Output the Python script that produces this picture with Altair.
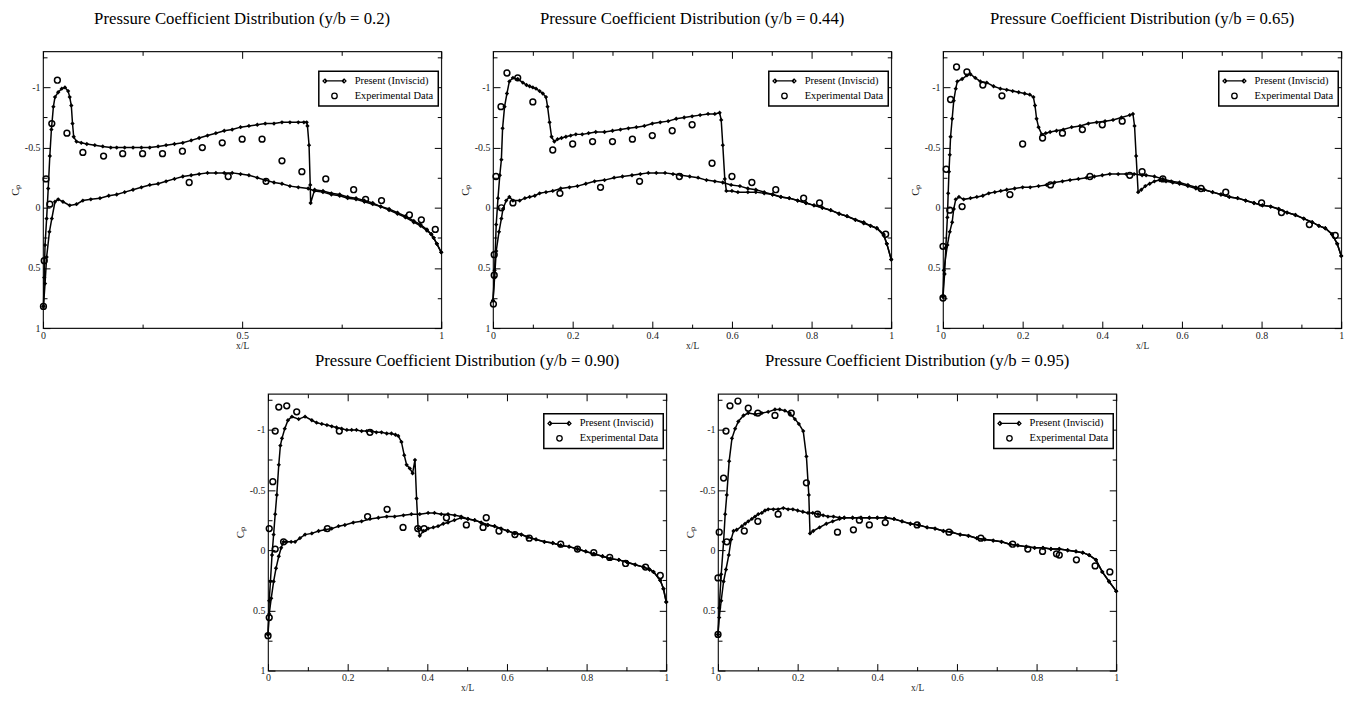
import altair as alt
import pandas as pd

TITLES = [
    "Pressure Coefficient Distribution (y/b = 0.2)",
    "Pressure Coefficient Distribution (y/b = 0.44)",
    "Pressure Coefficient Distribution (y/b = 0.65)",
    "Pressure Coefficient Distribution (y/b = 0.90)",
    "Pressure Coefficient Distribution (y/b = 0.95)",
]
SERIES = ["Present (Inviscid)", "Experimental Data"]

X_MAJOR_A = [0, 0.5, 1]
X_MINOR_A = [0.25, 0.75]
X_MAJOR_B = [0, 0.2, 0.4, 0.6, 0.8, 1]
X_MINOR_B = [0.1, 0.3, 0.5, 0.7, 0.9]
Y_MAJOR = [-1, -0.5, 0, 0.5, 1]
Y_MINOR = [-1.25, -0.75, -0.25, 0.25, 0.75]

# ---------------- y/b = 0.2 ----------------
P1_UPPER = [(0.001, 0.82), (0.003, 0.58), (0.005, 0.31), (0.009, 0.09), (0.013, -0.16), (0.017, -0.43),
            (0.021, -0.65), (0.026, -0.84), (0.030, -0.92), (0.038, -0.96), (0.047, -0.99), (0.055, -1.0),
            (0.063, -0.97), (0.067, -0.92), (0.071, -0.85), (0.074, -0.70), (0.077, -0.59), (0.084, -0.55),
            (0.096, -0.54), (0.11, -0.53), (0.13, -0.52), (0.15, -0.51), (0.17, -0.5), (0.185, -0.5),
            (0.205, -0.5), (0.226, -0.5), (0.247, -0.5), (0.268, -0.5), (0.289, -0.51), (0.309, -0.52),
            (0.33, -0.53), (0.351, -0.54), (0.372, -0.56), (0.392, -0.58), (0.413, -0.6), (0.434, -0.62),
            (0.455, -0.64), (0.475, -0.65), (0.496, -0.67), (0.517, -0.68), (0.538, -0.69), (0.558, -0.7),
            (0.58, -0.7), (0.6, -0.71), (0.62, -0.71), (0.641, -0.71), (0.655, -0.71), (0.662, -0.71),
            (0.664, -0.68), (0.668, -0.52), (0.671, -0.19), (0.672, -0.04), (0.682, -0.15), (0.703, -0.14),
            (0.724, -0.12), (0.745, -0.11), (0.765, -0.09), (0.786, -0.08), (0.807, -0.06), (0.828, -0.04),
            (0.848, -0.01), (0.869, 0.01), (0.89, 0.04), (0.91, 0.07), (0.931, 0.11), (0.948, 0.14),
            (0.964, 0.18), (0.975, 0.22), (0.981, 0.25), (0.989, 0.3), (1.0, 0.37)]
P1_LOWER = [(0.001, 0.82), (0.005, 0.63), (0.009, 0.41), (0.016, 0.2), (0.022, 0.09), (0.03, -0.05),
            (0.038, -0.07), (0.05, -0.05), (0.067, -0.02), (0.084, -0.03), (0.1, -0.06), (0.12, -0.07),
            (0.143, -0.08), (0.165, -0.1), (0.185, -0.11), (0.205, -0.13), (0.226, -0.15), (0.247, -0.17),
            (0.268, -0.19), (0.289, -0.2), (0.309, -0.22), (0.33, -0.24), (0.351, -0.26), (0.372, -0.27),
            (0.392, -0.28), (0.413, -0.29), (0.434, -0.29), (0.455, -0.29), (0.475, -0.29), (0.496, -0.28),
            (0.517, -0.27), (0.538, -0.25), (0.558, -0.23), (0.58, -0.21), (0.6, -0.2), (0.62, -0.18),
            (0.641, -0.17), (0.666, -0.16), (0.682, -0.14), (0.703, -0.13), (0.724, -0.11), (0.745, -0.1),
            (0.765, -0.08), (0.786, -0.07), (0.807, -0.05), (0.828, -0.03), (0.848, -0.01), (0.869, 0.02),
            (0.89, 0.05), (0.91, 0.08), (0.931, 0.12), (0.948, 0.15), (0.964, 0.19), (0.975, 0.22),
            (0.981, 0.25), (0.989, 0.3), (1.0, 0.37)]
P1_EXP = [(0.001, 0.82), (0.003, 0.44), (0.0075, -0.24), (0.017, -0.03), (0.022, -0.70), (0.036, -1.06),
          (0.06, -0.62), (0.1, -0.46), (0.152, -0.43), (0.2, -0.45), (0.25, -0.45), (0.3, -0.45),
          (0.35, -0.47), (0.4, -0.5), (0.45, -0.54), (0.5, -0.57), (0.55, -0.57), (0.6, -0.39),
          (0.65, -0.3), (0.71, -0.24), (0.78, -0.15), (0.81, -0.07), (0.85, -0.06), (0.92, 0.06),
          (0.95, 0.1), (0.985, 0.18), (0.367, -0.21), (0.465, -0.26), (0.56, -0.22)]

# ---------------- y/b = 0.44 ----------------
P2_UPPER = [(0.0, 0.77), (0.004, 0.52), (0.008, 0.14), (0.0125, -0.08), (0.017, -0.27), (0.021, -0.4),
            (0.024, -0.66), (0.029, -0.84), (0.035, -0.95), (0.041, -1.05), (0.05, -1.08), (0.062, -1.07),
            (0.075, -1.04), (0.084, -1.02), (0.092, -1.01), (0.1, -1.0), (0.108, -0.99), (0.117, -0.97),
            (0.125, -0.95), (0.133, -0.92), (0.137, -0.84), (0.142, -0.71), (0.147, -0.59), (0.154, -0.55),
            (0.162, -0.57), (0.172, -0.58), (0.183, -0.59), (0.195, -0.6), (0.208, -0.61), (0.224, -0.61),
            (0.24, -0.62), (0.258, -0.63), (0.28, -0.63), (0.3, -0.64), (0.32, -0.65), (0.34, -0.66),
            (0.36, -0.67), (0.38, -0.68), (0.4, -0.7), (0.42, -0.71), (0.44, -0.72), (0.46, -0.74),
            (0.48, -0.75), (0.5, -0.76), (0.52, -0.77), (0.54, -0.78), (0.557, -0.78), (0.569, -0.79),
            (0.573, -0.73), (0.577, -0.52), (0.582, -0.24), (0.586, -0.14), (0.6, -0.14), (0.615, -0.13),
            (0.64, -0.13), (0.66, -0.13), (0.681, -0.12), (0.702, -0.11), (0.723, -0.09), (0.744, -0.08),
            (0.765, -0.06), (0.786, -0.04), (0.806, -0.02), (0.827, 0.0), (0.848, 0.02), (0.869, 0.05),
            (0.889, 0.07), (0.91, 0.1), (0.931, 0.12), (0.948, 0.15), (0.964, 0.17), (0.981, 0.22),
            (0.989, 0.3), (1.0, 0.43)]
P2_LOWER = [(0.0, 0.77), (0.004, 0.58), (0.008, 0.36), (0.015, 0.2), (0.021, 0.09), (0.025, 0.01),
            (0.033, -0.06), (0.041, -0.09), (0.05, -0.06), (0.067, -0.06), (0.08, -0.08), (0.092, -0.09),
            (0.105, -0.1), (0.117, -0.12), (0.133, -0.13), (0.15, -0.14), (0.17, -0.16), (0.192, -0.17),
            (0.212, -0.18), (0.233, -0.2), (0.255, -0.22), (0.28, -0.23), (0.304, -0.25), (0.325, -0.26),
            (0.349, -0.27), (0.37, -0.28), (0.39, -0.29), (0.41, -0.29), (0.432, -0.29), (0.452, -0.28),
            (0.473, -0.27), (0.494, -0.26), (0.515, -0.25), (0.536, -0.23), (0.557, -0.22), (0.577, -0.21),
            (0.598, -0.19), (0.62, -0.18), (0.64, -0.16), (0.66, -0.15), (0.681, -0.13), (0.702, -0.11),
            (0.723, -0.09), (0.744, -0.08), (0.765, -0.06), (0.786, -0.04), (0.806, -0.02), (0.827, 0.0),
            (0.848, 0.02), (0.869, 0.05), (0.889, 0.07), (0.91, 0.1), (0.931, 0.13), (0.948, 0.15),
            (0.964, 0.17), (0.981, 0.23), (0.989, 0.3), (1.0, 0.43)]
P2_EXP = [(0.001, 0.8), (0.003, 0.56), (0.003, 0.39), (0.0075, -0.26), (0.02, -0.84), (0.021, 0.0),
          (0.035, -1.12), (0.062, -1.08), (0.1, -0.88), (0.15, -0.48), (0.2, -0.53), (0.25, -0.55),
          (0.3, -0.55), (0.35, -0.57), (0.4, -0.6), (0.45, -0.64), (0.5, -0.69), (0.55, -0.37),
          (0.6, -0.26), (0.65, -0.21), (0.71, -0.15), (0.78, -0.08), (0.82, -0.04), (0.986, 0.22),
          (0.05, -0.04), (0.168, -0.12), (0.27, -0.17), (0.368, -0.22), (0.468, -0.26)]

# ---------------- y/b = 0.65 ----------------
P3_UPPER = [(0.0, 0.74), (0.004, 0.55), (0.007, 0.33), (0.011, 0.08), (0.013, -0.12), (0.015, -0.3),
            (0.017, -0.44), (0.019, -0.59), (0.023, -0.74), (0.027, -0.89), (0.032, -0.99), (0.036, -1.05),
            (0.048, -1.07), (0.06, -1.1), (0.069, -1.11), (0.081, -1.08), (0.094, -1.05), (0.11, -1.04),
            (0.127, -1.01), (0.144, -0.99), (0.16, -0.98), (0.175, -0.97), (0.19, -0.96), (0.205, -0.95),
            (0.218, -0.94), (0.227, -0.92), (0.231, -0.85), (0.235, -0.74), (0.24, -0.67), (0.248, -0.61),
            (0.258, -0.62), (0.269, -0.63), (0.285, -0.64), (0.302, -0.65), (0.323, -0.67), (0.344, -0.68),
            (0.365, -0.7), (0.386, -0.71), (0.407, -0.72), (0.427, -0.73), (0.448, -0.75), (0.469, -0.77),
            (0.477, -0.78), (0.481, -0.68), (0.485, -0.43), (0.49, -0.13), (0.498, -0.15), (0.508, -0.18),
            (0.519, -0.2), (0.531, -0.22), (0.544, -0.23), (0.56, -0.22), (0.577, -0.21), (0.594, -0.2),
            (0.615, -0.18), (0.635, -0.16), (0.656, -0.15), (0.677, -0.13), (0.698, -0.11), (0.719, -0.09),
            (0.74, -0.08), (0.76, -0.06), (0.781, -0.04), (0.802, -0.02), (0.823, -0.01), (0.843, 0.01),
            (0.864, 0.04), (0.885, 0.06), (0.906, 0.09), (0.927, 0.12), (0.944, 0.15), (0.96, 0.17),
            (0.977, 0.22), (0.99, 0.3), (1.0, 0.4)]
P3_LOWER = [(0.0, 0.74), (0.002, 0.52), (0.011, 0.31), (0.017, 0.2), (0.023, 0.12), (0.027, 0.01),
            (0.032, -0.07), (0.04, -0.09), (0.052, -0.07), (0.069, -0.08), (0.085, -0.09), (0.1, -0.1),
            (0.115, -0.12), (0.13, -0.13), (0.145, -0.14), (0.16, -0.15), (0.18, -0.16), (0.2, -0.17),
            (0.219, -0.17), (0.24, -0.18), (0.26, -0.19), (0.28, -0.21), (0.3, -0.22), (0.319, -0.23),
            (0.34, -0.24), (0.36, -0.25), (0.38, -0.26), (0.4, -0.27), (0.419, -0.28), (0.44, -0.28),
            (0.46, -0.28), (0.48, -0.28), (0.5, -0.27), (0.51, -0.27), (0.531, -0.26), (0.552, -0.24),
            (0.573, -0.22), (0.594, -0.21), (0.615, -0.19), (0.635, -0.17), (0.656, -0.15), (0.677, -0.13),
            (0.698, -0.11), (0.719, -0.09), (0.74, -0.08), (0.76, -0.06), (0.781, -0.04), (0.802, -0.02),
            (0.823, -0.01), (0.843, 0.01), (0.864, 0.04), (0.885, 0.06), (0.906, 0.09), (0.927, 0.12),
            (0.944, 0.15), (0.96, 0.17), (0.977, 0.22), (0.99, 0.3), (1.0, 0.4)]
P3_EXP = [(0.0, 0.75), (0.0, 0.32), (0.008, -0.32), (0.017, 0.02), (0.019, -0.9), (0.034, -1.17),
          (0.048, -0.01), (0.06, -1.13), (0.1, -1.02), (0.148, -0.93), (0.168, -0.11), (0.2, -0.53),
          (0.25, -0.58), (0.27, -0.19), (0.3, -0.62), (0.35, -0.65), (0.369, -0.26), (0.4, -0.69),
          (0.45, -0.72), (0.469, -0.27), (0.5, -0.3), (0.552, -0.24), (0.648, -0.16), (0.71, -0.13),
          (0.8, -0.04), (0.85, 0.04), (0.92, 0.14), (0.985, 0.23)]

# ---------------- y/b = 0.90 ----------------
P4_UPPER = [(0.0, 0.7), (0.003, 0.42), (0.006, 0.26), (0.01, 0.04), (0.014, -0.13), (0.018, -0.3),
            (0.022, -0.46), (0.027, -0.71), (0.031, -0.87), (0.035, -0.93), (0.042, -1.01), (0.05, -1.08),
            (0.06, -1.11), (0.077, -1.09), (0.093, -1.11), (0.11, -1.08), (0.122, -1.06), (0.135, -1.05),
            (0.148, -1.04), (0.16, -1.03), (0.172, -1.02), (0.185, -1.01), (0.198, -1.0), (0.21, -1.0),
            (0.222, -1.0), (0.235, -0.99), (0.248, -0.99), (0.26, -0.99), (0.272, -0.98), (0.285, -0.98),
            (0.298, -0.97), (0.31, -0.97), (0.32, -0.96), (0.327, -0.95), (0.335, -0.9), (0.342, -0.79),
            (0.348, -0.71), (0.356, -0.68), (0.363, -0.64), (0.369, -0.75), (0.373, -0.43), (0.377, -0.18),
            (0.381, -0.12), (0.39, -0.16), (0.402, -0.18), (0.415, -0.19), (0.427, -0.2), (0.44, -0.22),
            (0.452, -0.23), (0.468, -0.25), (0.485, -0.27), (0.502, -0.26), (0.519, -0.25), (0.535, -0.23),
            (0.552, -0.21), (0.569, -0.2), (0.585, -0.18), (0.602, -0.16), (0.619, -0.14), (0.636, -0.13),
            (0.652, -0.11), (0.673, -0.09), (0.694, -0.07), (0.715, -0.06), (0.735, -0.04), (0.756, -0.03),
            (0.777, -0.01), (0.798, 0.01), (0.818, 0.03), (0.84, 0.05), (0.86, 0.07), (0.881, 0.08),
            (0.902, 0.1), (0.922, 0.12), (0.943, 0.14), (0.958, 0.16), (0.968, 0.18), (0.985, 0.25),
            (0.993, 0.32), (1.0, 0.43)]
P4_LOWER = [(0.0, 0.7), (0.003, 0.53), (0.008, 0.4), (0.014, 0.26), (0.02, 0.15), (0.027, 0.05),
            (0.033, -0.02), (0.039, -0.07), (0.047, -0.07), (0.058, -0.07), (0.068, -0.07), (0.08, -0.1),
            (0.093, -0.13), (0.11, -0.14), (0.127, -0.16), (0.143, -0.17), (0.16, -0.18), (0.177, -0.2),
            (0.193, -0.21), (0.214, -0.23), (0.235, -0.24), (0.256, -0.26), (0.277, -0.27), (0.298, -0.28),
            (0.318, -0.28), (0.34, -0.29), (0.36, -0.3), (0.381, -0.3), (0.402, -0.31), (0.418, -0.31),
            (0.435, -0.3), (0.452, -0.3), (0.469, -0.29), (0.485, -0.28), (0.502, -0.26), (0.519, -0.25),
            (0.535, -0.23), (0.552, -0.21), (0.569, -0.2), (0.585, -0.18), (0.602, -0.16), (0.619, -0.14),
            (0.636, -0.13), (0.652, -0.11), (0.673, -0.09), (0.694, -0.07), (0.715, -0.06), (0.735, -0.04),
            (0.756, -0.03), (0.777, -0.01), (0.798, 0.01), (0.818, 0.03), (0.84, 0.05), (0.86, 0.07),
            (0.881, 0.08), (0.902, 0.1), (0.922, 0.12), (0.943, 0.14), (0.958, 0.16), (0.968, 0.18),
            (0.985, 0.25), (0.993, 0.32), (1.0, 0.43)]
P4_EXP = [(0.0, 0.71), (0.003, 0.56), (0.003, -0.18), (0.012, -0.57), (0.018, -0.99), (0.018, -0.01),
          (0.027, -1.19), (0.039, -0.07), (0.047, -1.2), (0.072, -1.15), (0.149, -0.18), (0.179, -0.99),
          (0.25, -0.28), (0.256, -0.98), (0.299, -0.34), (0.339, -0.19), (0.376, -0.18), (0.392, -0.18),
          (0.448, -0.27), (0.498, -0.21), (0.54, -0.19), (0.548, -0.27), (0.58, -0.16), (0.62, -0.13),
          (0.656, -0.1), (0.735, -0.05), (0.777, -0.01), (0.818, 0.02), (0.858, 0.06), (0.898, 0.11),
          (0.948, 0.14), (0.985, 0.21)]

# ---------------- y/b = 0.95 ----------------
P5_UPPER = [(0.0, 0.7), (0.003, 0.48), (0.008, 0.2), (0.014, -0.07), (0.018, -0.3), (0.022, -0.46),
            (0.028, -0.74), (0.035, -0.93), (0.043, -1.01), (0.051, -1.07), (0.064, -1.12), (0.076, -1.14),
            (0.093, -1.13), (0.11, -1.14), (0.126, -1.15), (0.143, -1.17), (0.155, -1.17), (0.168, -1.16),
            (0.18, -1.14), (0.193, -1.09), (0.203, -1.05), (0.214, -0.99), (0.222, -0.78), (0.228, -0.46),
            (0.231, -0.14), (0.239, -0.16), (0.255, -0.19), (0.272, -0.22), (0.288, -0.24), (0.305, -0.26),
            (0.317, -0.27), (0.338, -0.27), (0.359, -0.27), (0.38, -0.27), (0.4, -0.27), (0.421, -0.27),
            (0.442, -0.26), (0.462, -0.24), (0.483, -0.22), (0.504, -0.21), (0.525, -0.19), (0.545, -0.18),
            (0.566, -0.16), (0.587, -0.15), (0.608, -0.13), (0.629, -0.12), (0.65, -0.1), (0.67, -0.09),
            (0.691, -0.08), (0.712, -0.07), (0.733, -0.05), (0.753, -0.04), (0.774, -0.03), (0.795, -0.02),
            (0.816, -0.02), (0.836, -0.01), (0.857, -0.01), (0.878, 0.0), (0.899, 0.01), (0.916, 0.02),
            (0.932, 0.04), (0.949, 0.08), (0.965, 0.18), (0.982, 0.26), (1.0, 0.34)]
P5_LOWER = [(0.0, 0.7), (0.003, 0.56), (0.008, 0.42), (0.014, 0.26), (0.02, 0.16), (0.027, 0.04),
            (0.033, -0.09), (0.039, -0.16), (0.047, -0.17), (0.06, -0.2), (0.068, -0.22), (0.076, -0.24),
            (0.085, -0.26), (0.093, -0.28), (0.101, -0.3), (0.11, -0.31), (0.118, -0.33), (0.126, -0.34),
            (0.139, -0.34), (0.151, -0.34), (0.164, -0.35), (0.176, -0.34), (0.188, -0.34), (0.2, -0.33),
            (0.213, -0.32), (0.226, -0.31), (0.238, -0.31), (0.251, -0.3), (0.264, -0.29), (0.276, -0.28),
            (0.29, -0.28), (0.305, -0.27), (0.317, -0.27), (0.338, -0.27), (0.359, -0.27), (0.38, -0.27),
            (0.4, -0.27), (0.421, -0.27), (0.442, -0.26), (0.462, -0.24), (0.483, -0.22), (0.504, -0.21),
            (0.525, -0.19), (0.545, -0.18), (0.566, -0.16), (0.587, -0.15), (0.608, -0.13), (0.629, -0.12),
            (0.65, -0.1), (0.67, -0.09), (0.691, -0.08), (0.712, -0.07), (0.733, -0.05), (0.753, -0.04),
            (0.774, -0.03), (0.795, -0.02), (0.816, -0.02), (0.836, -0.01), (0.857, -0.01), (0.878, 0.0),
            (0.899, 0.01), (0.916, 0.02), (0.932, 0.04), (0.949, 0.08), (0.965, 0.18), (0.982, 0.26),
            (1.0, 0.34)]
P5_EXP = [(0.0, 0.7), (0.0, 0.23), (0.003, -0.15), (0.014, -0.6), (0.02, -0.99), (0.022, -0.07),
          (0.03, -1.2), (0.05, -1.24), (0.066, -0.16), (0.076, -1.18), (0.1, -1.14), (0.1, -0.24),
          (0.143, -1.12), (0.151, -0.3), (0.184, -1.14), (0.222, -0.56), (0.25, -0.3), (0.3, -0.15),
          (0.34, -0.17), (0.355, -0.25), (0.38, -0.21), (0.42, -0.23), (0.5, -0.21), (0.58, -0.15),
          (0.66, -0.1), (0.74, -0.05), (0.778, -0.01), (0.815, 0.01), (0.85, 0.03), (0.857, 0.04),
          (0.9, 0.08), (0.947, 0.13), (0.984, 0.18)]

W, H = 400, 278
SERIF = "Liberation Serif"
MAJ, MIN = 7, 4
PRESENT_PATH = ("M-3.5,0L3.5,0M-3.5,-0.7L-2.8,0L-3.5,0.7L-4.2,0Z"
                "M3.5,-0.7L4.2,0L3.5,0.7L2.8,0Z")


def panel(title, upper, lower, exp, xmajor, xminor):
    rows = []
    for i, (x, c) in enumerate(upper):
        rows.append({"x": x, "cp": c, "surf": "upper", "idx": i})
    for i, (x, c) in enumerate(lower):
        rows.append({"x": x, "cp": c, "surf": "lower", "idx": i})
    cfd = pd.DataFrame(rows)
    ex = pd.DataFrame(exp, columns=["x", "cp"])
    ex["series"] = SERIES[1]

    xs = alt.Scale(domain=[0, 1], nice=False, zero=False)
    ys = alt.Scale(domain=[-1.3, 1], reverse=True, nice=False, zero=False)

    lab = dict(labelFont=SERIF, labelFontSize=10, labelColor="#1a1a1a", labelFlush=False,
               labelExpr="'' + datum.value", ticks=False, domain=False, grid=True,
               gridColor="black", gridWidth=1, gridOpacity=1)
    x_major = alt.Axis(values=xmajor, labelPadding=2, gridDash=[MAJ, H - 2 * MAJ],
                       title="x/L", titleFont=SERIF, titleFontSize=9.5, titleFontWeight="normal",
                       titleColor="#1a1a1a", titlePadding=0, **lab)
    y_major = alt.Axis(values=Y_MAJOR, labelPadding=3, gridDash=[MAJ, W - 2 * MAJ],
                       title="Cₚ", titleFont=SERIF, titleFontSize=11, titleFontWeight="normal",
                       titleColor="#1a1a1a", titlePadding=4, **lab)
    minor = dict(labels=False, ticks=False, domain=False, grid=True, gridColor="black",
                 gridWidth=1, gridOpacity=1, title=None, minExtent=0, maxExtent=0, offset=0)
    x_minor = alt.Axis(values=xminor, gridDash=[MIN, H - 2 * MIN], **minor)
    y_minor = alt.Axis(values=Y_MINOR, gridDash=[MIN, W - 2 * MIN], **minor)

    line = alt.Chart(cfd).mark_line(color="black", strokeWidth=1.5).encode(
        x=alt.X("x:Q", scale=xs, axis=x_major),
        y=alt.Y("cp:Q", scale=ys, axis=y_major),
        detail="surf:N",
        order="idx:Q",
    )
    diamonds = alt.Chart(cfd).mark_point(shape="diamond", filled=True, size=19, color="black",
                                         opacity=1).encode(
        x=alt.X("x:Q", scale=xs, axis=x_minor),
        y=alt.Y("cp:Q", scale=ys, axis=y_minor),
    )
    legend = alt.Legend(
        title=None, orient="none", legendX=W - 123, legendY=20, padding=4.5,
        strokeColor="black", fillColor="white", labelFont=SERIF, labelFontSize=10.5,
        labelColor="black", symbolSize=30, symbolStrokeWidth=1.3, symbolStrokeColor="black",
        symbolOffset=6, labelOffset=15, rowPadding=3,
    )
    circles = alt.Chart(ex).mark_point(filled=False, size=34, strokeWidth=1.5, color="black",
                                       opacity=1).encode(
        x=alt.X("x:Q", scale=xs, axis=None),
        y=alt.Y("cp:Q", scale=ys, axis=None),
        shape=alt.Shape("series:N",
                        scale=alt.Scale(domain=SERIES, range=[PRESENT_PATH, "circle"]),
                        legend=legend),
    )
    return alt.layer(line, diamonds, circles).resolve_axis(
        x="independent", y="independent"
    ).properties(
        width=W, height=H,
        title=alt.TitleParams(title, font=SERIF, fontSize=16.8, fontWeight="normal",
                              color="black", anchor="middle", offset=24),
    )


p1 = panel(TITLES[0], P1_UPPER, P1_LOWER, P1_EXP, X_MAJOR_A, X_MINOR_A)
p2 = panel(TITLES[1], P2_UPPER, P2_LOWER, P2_EXP, X_MAJOR_B, X_MINOR_B)
p3 = panel(TITLES[2], P3_UPPER, P3_LOWER, P3_EXP, X_MAJOR_B, X_MINOR_B)
p4 = panel(TITLES[3], P4_UPPER, P4_LOWER, P4_EXP, X_MAJOR_B, X_MINOR_B)
p5 = panel(TITLES[4], P5_UPPER, P5_LOWER, P5_EXP, X_MAJOR_B, X_MINOR_B)

top = alt.hconcat(p1, p2, p3, spacing=13).resolve_scale(shape="independent").resolve_legend(
    shape="independent")
bottom = alt.hconcat(p4, p5, spacing=13).resolve_scale(shape="independent").resolve_legend(
    shape="independent")

chart = alt.vconcat(top, bottom, spacing=1, center=True).resolve_scale(
    shape="independent").resolve_legend(shape="independent").properties(
    padding={"left": 0, "top": 0, "right": 0, "bottom": 0},
    background="white",
).configure_view(stroke="#1a1a1a", strokeWidth=1.2).configure_legend(strokeWidth=1.5)

chart.save("out.html", embed_options={"renderer": "svg", "actions": False})
